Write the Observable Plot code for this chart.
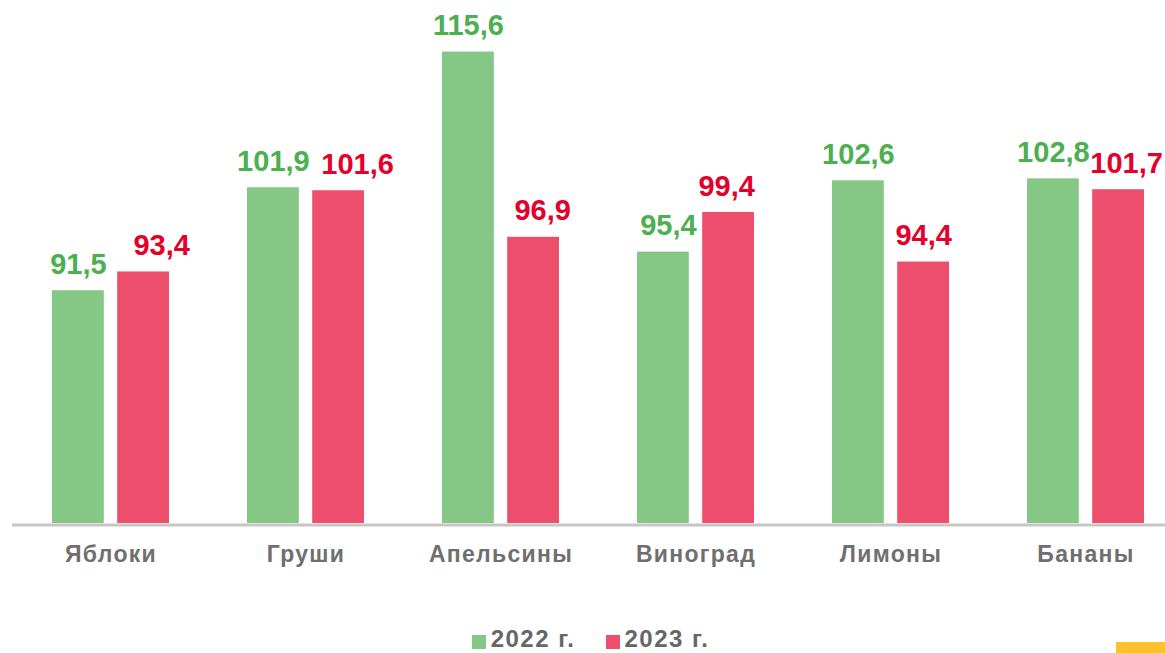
<!DOCTYPE html>
<html>
<head>
<meta charset="utf-8">
<script src="https://cdn.jsdelivr.net/npm/d3@7"></script>
<script src="https://cdn.jsdelivr.net/npm/@observablehq/plot@0.6"></script>
<style>
  html, body { margin: 0; padding: 0; background: #fff; overflow: hidden; }
  body { width: 1165px; height: 653px; position: relative; font-family: "Liberation Sans", Arial, sans-serif; }
  #chart svg { display: block; }
  #chart svg g[aria-label="x-axis tick label"] text { letter-spacing: 1.3px; }
  #legend { display: flex; justify-content: center; align-items: center; height: 28px; line-height: 28px;
            font-size: 24px; font-weight: bold; color: #666666; padding-left: 16px; letter-spacing: 1.5px; }
  .sw { display: inline-block; width: 14px; height: 14px; margin-right: 5px; position: relative; top: 3px; }
  .item { display: inline-flex; align-items: center; }
  .item + .item { margin-left: 30px; }
  #deco { position: absolute; left: 1116px; top: 642px; width: 49px; height: 11px; background: #fcc12f; }
</style>
</head>
<body>
<div id="chart"></div>
<div id="legend"></div>
<div id="deco"></div>
<script>
// ---- data ----
const fruits = ["Яблоки", "Груши", "Апельсины", "Виноград", "Лимоны", "Бананы"];
const series = ["2022 г.", "2023 г."];
const values2022 = [91.5, 101.9, 115.6, 95.4, 102.6, 102.8];
const values2023 = [93.4, 101.6, 96.9, 99.4, 94.4, 101.7];
const yMin = 68;
const yMax = 120;

// ---- styles / layout ----
const barColors = ["#85c785", "#ec4e6b"];
const textColors = ["#4caf50", "#e4002b"];
// small horizontal label nudges (layout only)
const labelNudge2022 = {"Виноград": 5};
const labelNudge2023 = {"Яблоки": 18, "Груши": 19, "Апельсины": 9, "Виноград": -2, "Бананы": 8};

const fmt = v => d3.format(".1f")(v).replace(".", ",");
const rows22 = fruits.map((f, i) => ({fruit: f, value: values2022[i]}));
const rows23 = fruits.map((f, i) => ({fruit: f, value: values2023[i]}));

const bandwidth = 117.2, barW = 52, half = bandwidth / 2 - barW / 2;

const plot = Plot.plot({
  width: 1165,
  height: 625,
  marginTop: 8,
  marginBottom: 102,
  marginLeft: 12,
  marginRight: 0,
  style: {fontFamily: "'Liberation Sans', Arial, sans-serif", background: "#fff"},
  x: {domain: fruits, paddingInner: 0.4, paddingOuter: 0.1506, align: 0.663, axis: null},
  y: {domain: [yMin, yMax], axis: null},
  marks: [
    Plot.barY(rows22, {x: "fruit", y1: yMin, y2: "value", fill: barColors[0], insetRight: bandwidth - barW}),
    Plot.barY(rows23, {x: "fruit", y1: yMin, y2: "value", fill: barColors[1], insetLeft: bandwidth - barW}),
    Plot.ruleY([yMin], {stroke: "#c6c6c6", strokeWidth: 3, dy: 1.5}),
    Plot.text(rows22, {x: "fruit", y: "value", text: d => fmt(d.value), fill: textColors[0],
      fontSize: 29, fontWeight: "bold", lineAnchor: "bottom", dy: -17,
      dx: -half}),
    Plot.text(rows23, {x: "fruit", y: "value", text: d => fmt(d.value), fill: textColors[1],
      fontSize: 29, fontWeight: "bold", lineAnchor: "bottom", dy: -17,
      dx: half}),
    Plot.axisX({tickSize: 0, tickPadding: 22, fontSize: 23, fontWeight: "bold", color: "#6f6f6f", label: null})
  ]
});
document.getElementById("chart").appendChild(plot);

// apply per-label nudges after render (layout only)
const texts = plot.querySelectorAll('g[aria-label="text"]');
[labelNudge2022, labelNudge2023].forEach((nudge, k) => {
  const g = texts[k];
  if (!g) return;
  g.querySelectorAll("text").forEach((t, i) => {
    const n = nudge[fruits[i]] || 0;
    if (n) t.setAttribute("dx", n);
  });
});

const legend = document.getElementById("legend");
series.forEach((s, i) => {
  const item = document.createElement("span");
  item.className = "item";
  item.innerHTML = `<span class="sw" style="background:${barColors[i]}"></span>${s}`;
  legend.appendChild(item);
});
</script>
</body>
</html>
